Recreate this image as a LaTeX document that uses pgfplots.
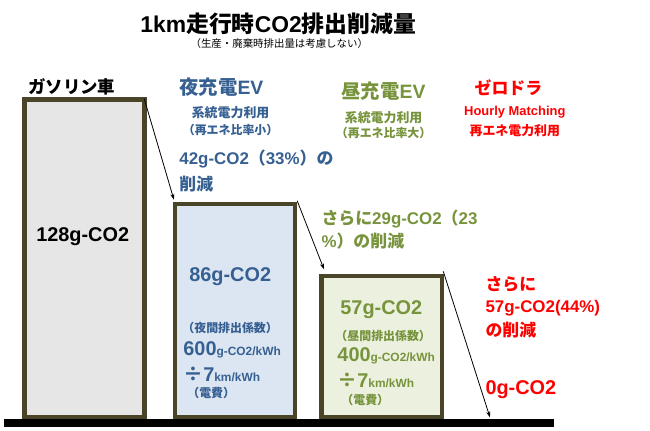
\documentclass[border=0pt]{standalone}
\usepackage{fontspec}
\setmainfont{Liberation Sans}
\newfontfamily\jp{Noto Sans CJK JP}
\usepackage{pgfplots}
\pgfplotsset{compat=1.18}
\usetikzlibrary{arrows.meta}

\definecolor{barline}{HTML}{4A4528}
\definecolor{gasfill}{HTML}{E6E6E6}
\definecolor{nightfill}{HTML}{DCE6F2}
\definecolor{dayfill}{HTML}{EBF1DE}
\definecolor{evblue}{HTML}{376092}
\definecolor{evgreen}{HTML}{77933C}
\definecolor{zred}{HTML}{FF0000}

\newcommand{\J}[1]{{\jp #1}}
\newcommand{\fs}[1]{\fontsize{#1}{#1}\selectfont}

\begin{document}
\begin{tikzpicture}
\begin{axis}[
    at = {(0,0)}, anchor = south west,
    scale only axis,
    width = 650pt, height = 433pt,
    xmin = 0, xmax = 650,
    ymin = -5.2, ymax = 168,
    hide axis,
    clip = false
]
% g-CO2 per km
\addplot[ybar, bar width = 121, bar shift = 0pt, fill = gasfill, draw = barline, line width = 4.5pt]
    coordinates {(81, 128)};
\addplot[ybar, bar width = 121, bar shift = 0pt, fill = nightfill, draw = barline, line width = 4.5pt]
    coordinates {(232.5, 86)};
\addplot[ybar, bar width = 121, bar shift = 0pt, fill = dayfill, draw = barline, line width = 4.5pt]
    coordinates {(380, 57)};

\draw[line width = 8pt] (axis cs:0,-2.4) -- (axis cs:553,-2.4);
\coordinate (TL) at (rel axis cs:0,1);
\end{axis}

% annotations, in pixels from the top left corner
\begin{scope}[shift = {(TL)}, x = 1pt, y = -1pt]
\path (0,0) rectangle (650,433);

\draw[line width = 0.8pt, -{Stealth[length=6pt, width=4pt]}] (141,99) -- (171,201);
\draw[line width = 0.8pt, -{Stealth[length=6pt, width=4pt]}] (295,202) -- (322,271);
\draw[line width = 0.8pt, -{Stealth[length=6pt, width=4pt]}] (442,273) -- (489,420);

\node[font = \bfseries\fs{23}] at (276,24) {1km\J{走行時}CO2\J{排出削減量}};
\node[font = \jp\fs{10.5}] at (277,44) {（生産・廃棄時排出量は考慮しない）};

% gasoline car
\node[anchor = west, font = \jp\bfseries\fs{17.5}] at (21,87) {ガソリン車};
\node[anchor = west, font = \bfseries\fs{20}] at (29,238) {128g-CO2};

% night EV
\begin{scope}[text = evblue]
\node[anchor = west, font = \bfseries\fs{19.5}] at (173,88) {\J{夜充電}EV};
\node[font = \jp\bfseries\fs{13}] at (228,113) {系統電力利用};
\node[font = \jp\bfseries\fs{12}] at (228,131) {（再エネ比率小）};
\node[anchor = west, font = \bfseries\fs{17}] at (173,160) {42g-CO2\J{（}33\%\J{）の}};
\node[anchor = west, font = \jp\bfseries\fs{17}] at (173,185) {削減};
\node[anchor = west, font = \bfseries\fs{20}] at (183,278) {86g-CO2};
\node[anchor = west, font = \jp\bfseries\fs{12}] at (176,330) {（夜間排出係数）};
\node[anchor = west, font = \bfseries] at (177,352) {\fs{20}600\fs{12}g-CO2/kWh};
\node[anchor = west, font = \bfseries] at (177,377) {\fs{20}\J{÷}7\fs{12}km/kWh};
\node[anchor = west, font = \jp\bfseries\fs{12}] at (181,395) {（電費）};
\end{scope}

% daytime EV
\begin{scope}[text = evgreen]
\node[anchor = west, font = \bfseries\fs{19.5}] at (336,92) {\J{昼充電}EV};
\node[font = \jp\bfseries\fs{13}] at (382,118) {系統電力利用};
\node[font = \jp\bfseries\fs{12}] at (382,134) {（再エネ比率大）};
\node[anchor = west, font = \bfseries\fs{17}] at (316,220) {\J{さらに}29g-CO2\J{（}23};
\node[anchor = west, font = \bfseries\fs{17}] at (316,243) {\%\J{）の削減}};
\node[anchor = west, font = \bfseries\fs{20}] at (335,312) {57g-CO2};
\node[anchor = west, font = \jp\bfseries\fs{12}] at (330,338) {（昼間排出係数）};
\node[anchor = west, font = \bfseries] at (332,358) {\fs{20}400\fs{12}g-CO2/kWh};
\node[anchor = west, font = \bfseries] at (332,383) {\fs{20}\J{÷}7\fs{12}km/kWh};
\node[anchor = west, font = \jp\bfseries\fs{12}] at (336,402) {（電費）};
\end{scope}

% zero-dora
\begin{scope}[text = zred]
\node[anchor = west, font = \jp\bfseries\fs{17}] at (470,88) {ゼロドラ};
\node[font = \bfseries\fs{13}] at (514,113) {Hourly Matching};
\node[font = \jp\bfseries\fs{13}] at (514,131) {再エネ電力利用};
\node[anchor = west, font = \jp\bfseries\fs{17}] at (481,286) {さらに};
\node[anchor = west, font = \bfseries\fs{17}] at (481,310) {57g-CO2(44\%)};
\node[anchor = west, font = \jp\bfseries\fs{17}] at (481,332) {の削減};
\node[anchor = west, font = \bfseries\fs{20}] at (481,392) {0g-CO2};
\end{scope}
\end{scope}
\end{tikzpicture}
\end{document}
